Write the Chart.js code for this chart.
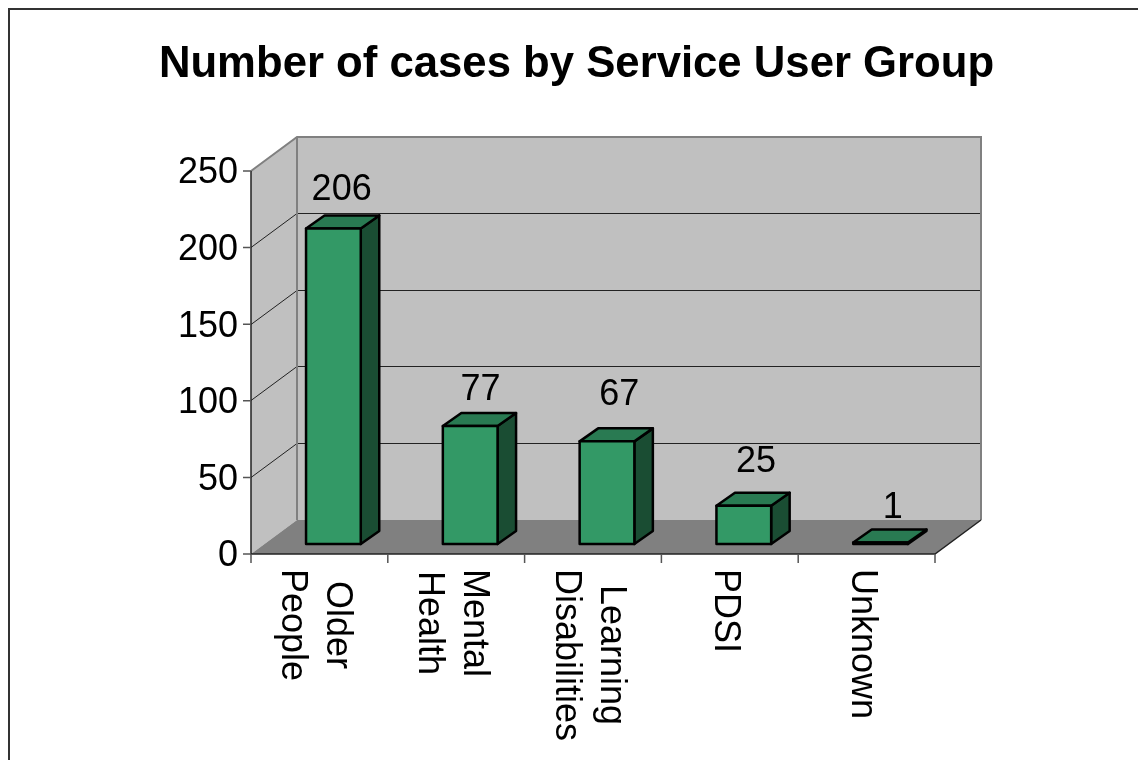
<!DOCTYPE html>
<html>
<head>
<meta charset="utf-8">
<title>Number of cases by Service User Group</title>
<script src="https://cdn.jsdelivr.net/npm/chart.js@4/dist/chart.umd.min.js"></script>
<style>
  html, body { margin: 0; padding: 0; background: #fff; overflow: hidden; }
  #wrap { position: absolute; left: 0; top: 0; width: 1138px; height: 760px; }
</style>
</head>
<body>
<div id="wrap"><canvas id="c" width="1138" height="760"></canvas></div>
<script>
const categories = [['Older', 'People'], ['Mental', 'Health'], ['Learning', 'Disabilities'], ['PDSI'], ['Unknown']];
const cases = [206, 77, 67, 25, 1];
const yTicks = [0, 50, 100, 150, 200, 250];

// how far the back wall sits behind the front of the box
const wallDepth = { x: 46, y: -34 };
// where the bars stand on the floor, and how deep they are
const barShift = { x: 14, y: -10 };
const barDepth = { x: 18.5, y: -13 };
// excel puts the 3d data labels a bit unevenly
const labelGap = [25, 23, 33, 31, 21];
const labelNudge = [-1, 1, 3, 3, 3];

const FONT = '"Liberation Sans", Arial, sans-serif';
const FONT_SIZE = 36;

const box3d = {
  id: 'box3d',
  beforeDraw(chart) {
    const { ctx, chartArea: a, scales: { y } } = chart;
    const d = wallDepth;
    ctx.save();

    // sheet outline, only the top and left edges show
    ctx.strokeStyle = '#333';
    ctx.lineWidth = 2;
    ctx.beginPath();
    ctx.moveTo(9, 760);
    ctx.lineTo(9, 9);
    ctx.lineTo(1138, 9);
    ctx.stroke();

    // back wall, side wall, floor
    ctx.fillStyle = '#c0c0c0';
    ctx.fillRect(a.left + d.x, a.top + d.y, a.width, a.height);
    ctx.beginPath();
    ctx.moveTo(a.left, a.top);
    ctx.lineTo(a.left + d.x, a.top + d.y);
    ctx.lineTo(a.left + d.x, a.bottom + d.y);
    ctx.lineTo(a.left, a.bottom);
    ctx.closePath();
    ctx.fill();
    ctx.fillStyle = '#808080';
    ctx.beginPath();
    ctx.moveTo(a.left, a.bottom);
    ctx.lineTo(a.left + d.x, a.bottom + d.y);
    ctx.lineTo(a.right + d.x, a.bottom + d.y);
    ctx.lineTo(a.right, a.bottom);
    ctx.closePath();
    ctx.fill();

    // grid lines across both walls
    yTicks.forEach(t => {
      if (t === 0 || t === 250) return;
      const py = Math.floor(y.getPixelForValue(t)) + 0.5;
      ctx.strokeStyle = '#222';
      ctx.lineWidth = 1;
      ctx.beginPath();
      ctx.moveTo(a.left, py);
      ctx.lineTo(a.left + d.x, py + d.y);
      ctx.lineTo(a.right + d.x, py + d.y);
      ctx.stroke();
    });

    // grey edges of the box
    ctx.strokeStyle = '#808080';
    ctx.lineWidth = 2;
    ctx.beginPath();
    ctx.moveTo(a.left, a.top);
    ctx.lineTo(a.left + d.x, a.top + d.y);
    ctx.lineTo(a.right + d.x, a.top + d.y);
    ctx.lineTo(a.right + d.x, a.bottom + d.y);
    ctx.moveTo(a.left + d.x, a.top + d.y);
    ctx.lineTo(a.left + d.x, a.bottom + d.y);
    ctx.stroke();

    // front edges and tick marks
    ctx.strokeStyle = '#222';
    ctx.lineWidth = 1.5;
    ctx.beginPath();
    ctx.moveTo(a.left, a.top);
    ctx.lineTo(a.left, a.bottom);
    ctx.lineTo(a.right, a.bottom);
    ctx.lineTo(a.right + d.x, a.bottom + d.y);
    ctx.stroke();

    ctx.strokeStyle = '#555';
    ctx.lineWidth = 1.5;
    ctx.beginPath();
    yTicks.forEach(t => {
      const py = y.getPixelForValue(t);
      ctx.moveTo(a.left - 8, py);
      ctx.lineTo(a.left, py);
    });
    for (let i = 0; i <= categories.length; i++) {
      const px = a.left + a.width * i / categories.length;
      ctx.moveTo(px, a.bottom);
      ctx.lineTo(px, a.bottom + 9);
    }
    ctx.stroke();
    ctx.restore();
  },
  beforeDatasetsDraw(chart) {
    // side and top faces go behind the front faces
    const { ctx } = chart;
    const s = barShift, b = barDepth;
    ctx.save();
    ctx.strokeStyle = '#000';
    ctx.lineWidth = 2.5;
    ctx.lineJoin = 'round';
    chart.getDatasetMeta(0).data.forEach(bar => {
      const l = bar.x - bar.width / 2 + s.x;
      const r = bar.x + bar.width / 2 + s.x;
      const top = bar.y + s.y;
      const bot = bar.base + s.y;
      ctx.fillStyle = '#1a4d33';
      ctx.beginPath();
      ctx.moveTo(r, top);
      ctx.lineTo(r + b.x, top + b.y);
      ctx.lineTo(r + b.x, bot + b.y);
      ctx.lineTo(r, bot);
      ctx.closePath();
      ctx.fill();
      ctx.stroke();
      ctx.fillStyle = '#297a52';
      ctx.beginPath();
      ctx.moveTo(l, top);
      ctx.lineTo(l + b.x, top + b.y);
      ctx.lineTo(r + b.x, top + b.y);
      ctx.lineTo(r, top);
      ctx.closePath();
      ctx.fill();
      ctx.stroke();
    });
    ctx.restore();
    // front faces are the library's own bars, pushed onto the floor
    ctx.save();
    ctx.translate(s.x, s.y);
  },
  afterDatasetsDraw(chart) {
    const { ctx, scales: { x } } = chart;
    ctx.restore();
    ctx.save();

    // outline the front faces, so the tiny last bar still gets its thick edge
    ctx.strokeStyle = '#000';
    ctx.lineWidth = 2.5;
    ctx.lineJoin = 'round';
    chart.getDatasetMeta(0).data.forEach(bar => {
      ctx.strokeRect(bar.x - bar.width / 2 + barShift.x, bar.y + barShift.y, bar.width, bar.base - bar.y);
    });

    ctx.fillStyle = '#000';
    ctx.font = FONT_SIZE + 'px ' + FONT;
    ctx.textAlign = 'center';
    ctx.textBaseline = 'middle';
    chart.getDatasetMeta(0).data.forEach((bar, i) => {
      const cx = bar.x + barShift.x + barDepth.x / 2 + labelNudge[i];
      const backTop = bar.y + barShift.y + barDepth.y;
      ctx.fillText(String(cases[i]), cx, backTop - labelGap[i]);
    });

    // category labels read downwards, so they are drawn here rather than by the axis
    categories.forEach((lines, i) => {
      const cx = x.getPixelForTick(i);
      lines.forEach((line, j) => {
        ctx.save();
        ctx.translate(cx - 15 + ((lines.length - 1) / 2 - j) * 45, 0);
        ctx.rotate(Math.PI / 2);
        ctx.textAlign = 'center';
        ctx.textBaseline = 'alphabetic';
        const blockW = Math.max(...lines.map(t => ctx.measureText(t).width));
        ctx.fillText(line, 569 + blockW / 2, 0);
        ctx.restore();
      });
    });
    ctx.restore();
  }
};

new Chart(document.getElementById('c'), {
  type: 'bar',
  data: {
    labels: categories,
    datasets: [{
      data: cases,
      backgroundColor: '#339966',
      borderWidth: 0,
      barPercentage: 0.4,
      categoryPercentage: 1
    }]
  },
  options: {
    responsive: false,
    animation: false,
    devicePixelRatio: 1,
    layout: { padding: { left: 151, right: 1138 - 935, top: 171, bottom: 760 - 554 } },
    plugins: {
      legend: { display: false },
      tooltip: { enabled: false },
      title: { display: false }
    },
    scales: {
      x: {
        display: true,
        grid: { display: false, drawTicks: false },
        border: { display: false },
        ticks: { display: false }
      },
      y: {
        min: 0,
        max: 250,
        afterBuildTicks(axis) { axis.ticks = yTicks.map(v => ({ value: v })); },
        afterFit(axis) { axis.width = 100; },
        grid: { display: false, drawTicks: false },
        border: { display: false },
        ticks: {
          color: '#000',
          padding: 13,
          labelOffset: 2.5,
          font: { family: FONT, size: FONT_SIZE }
        }
      }
    }
  },
  plugins: [box3d, {
    id: 'heading',
    afterDraw(chart) {
      const { ctx } = chart;
      ctx.save();
      ctx.fillStyle = '#000';
      ctx.font = 'bold 43.7px ' + FONT;
      ctx.textAlign = 'center';
      ctx.textBaseline = 'alphabetic';
      ctx.fillText('Number of cases by Service User Group', 576.5, 77);
      ctx.restore();
    }
  }]
});
</script>
</body>
</html>
